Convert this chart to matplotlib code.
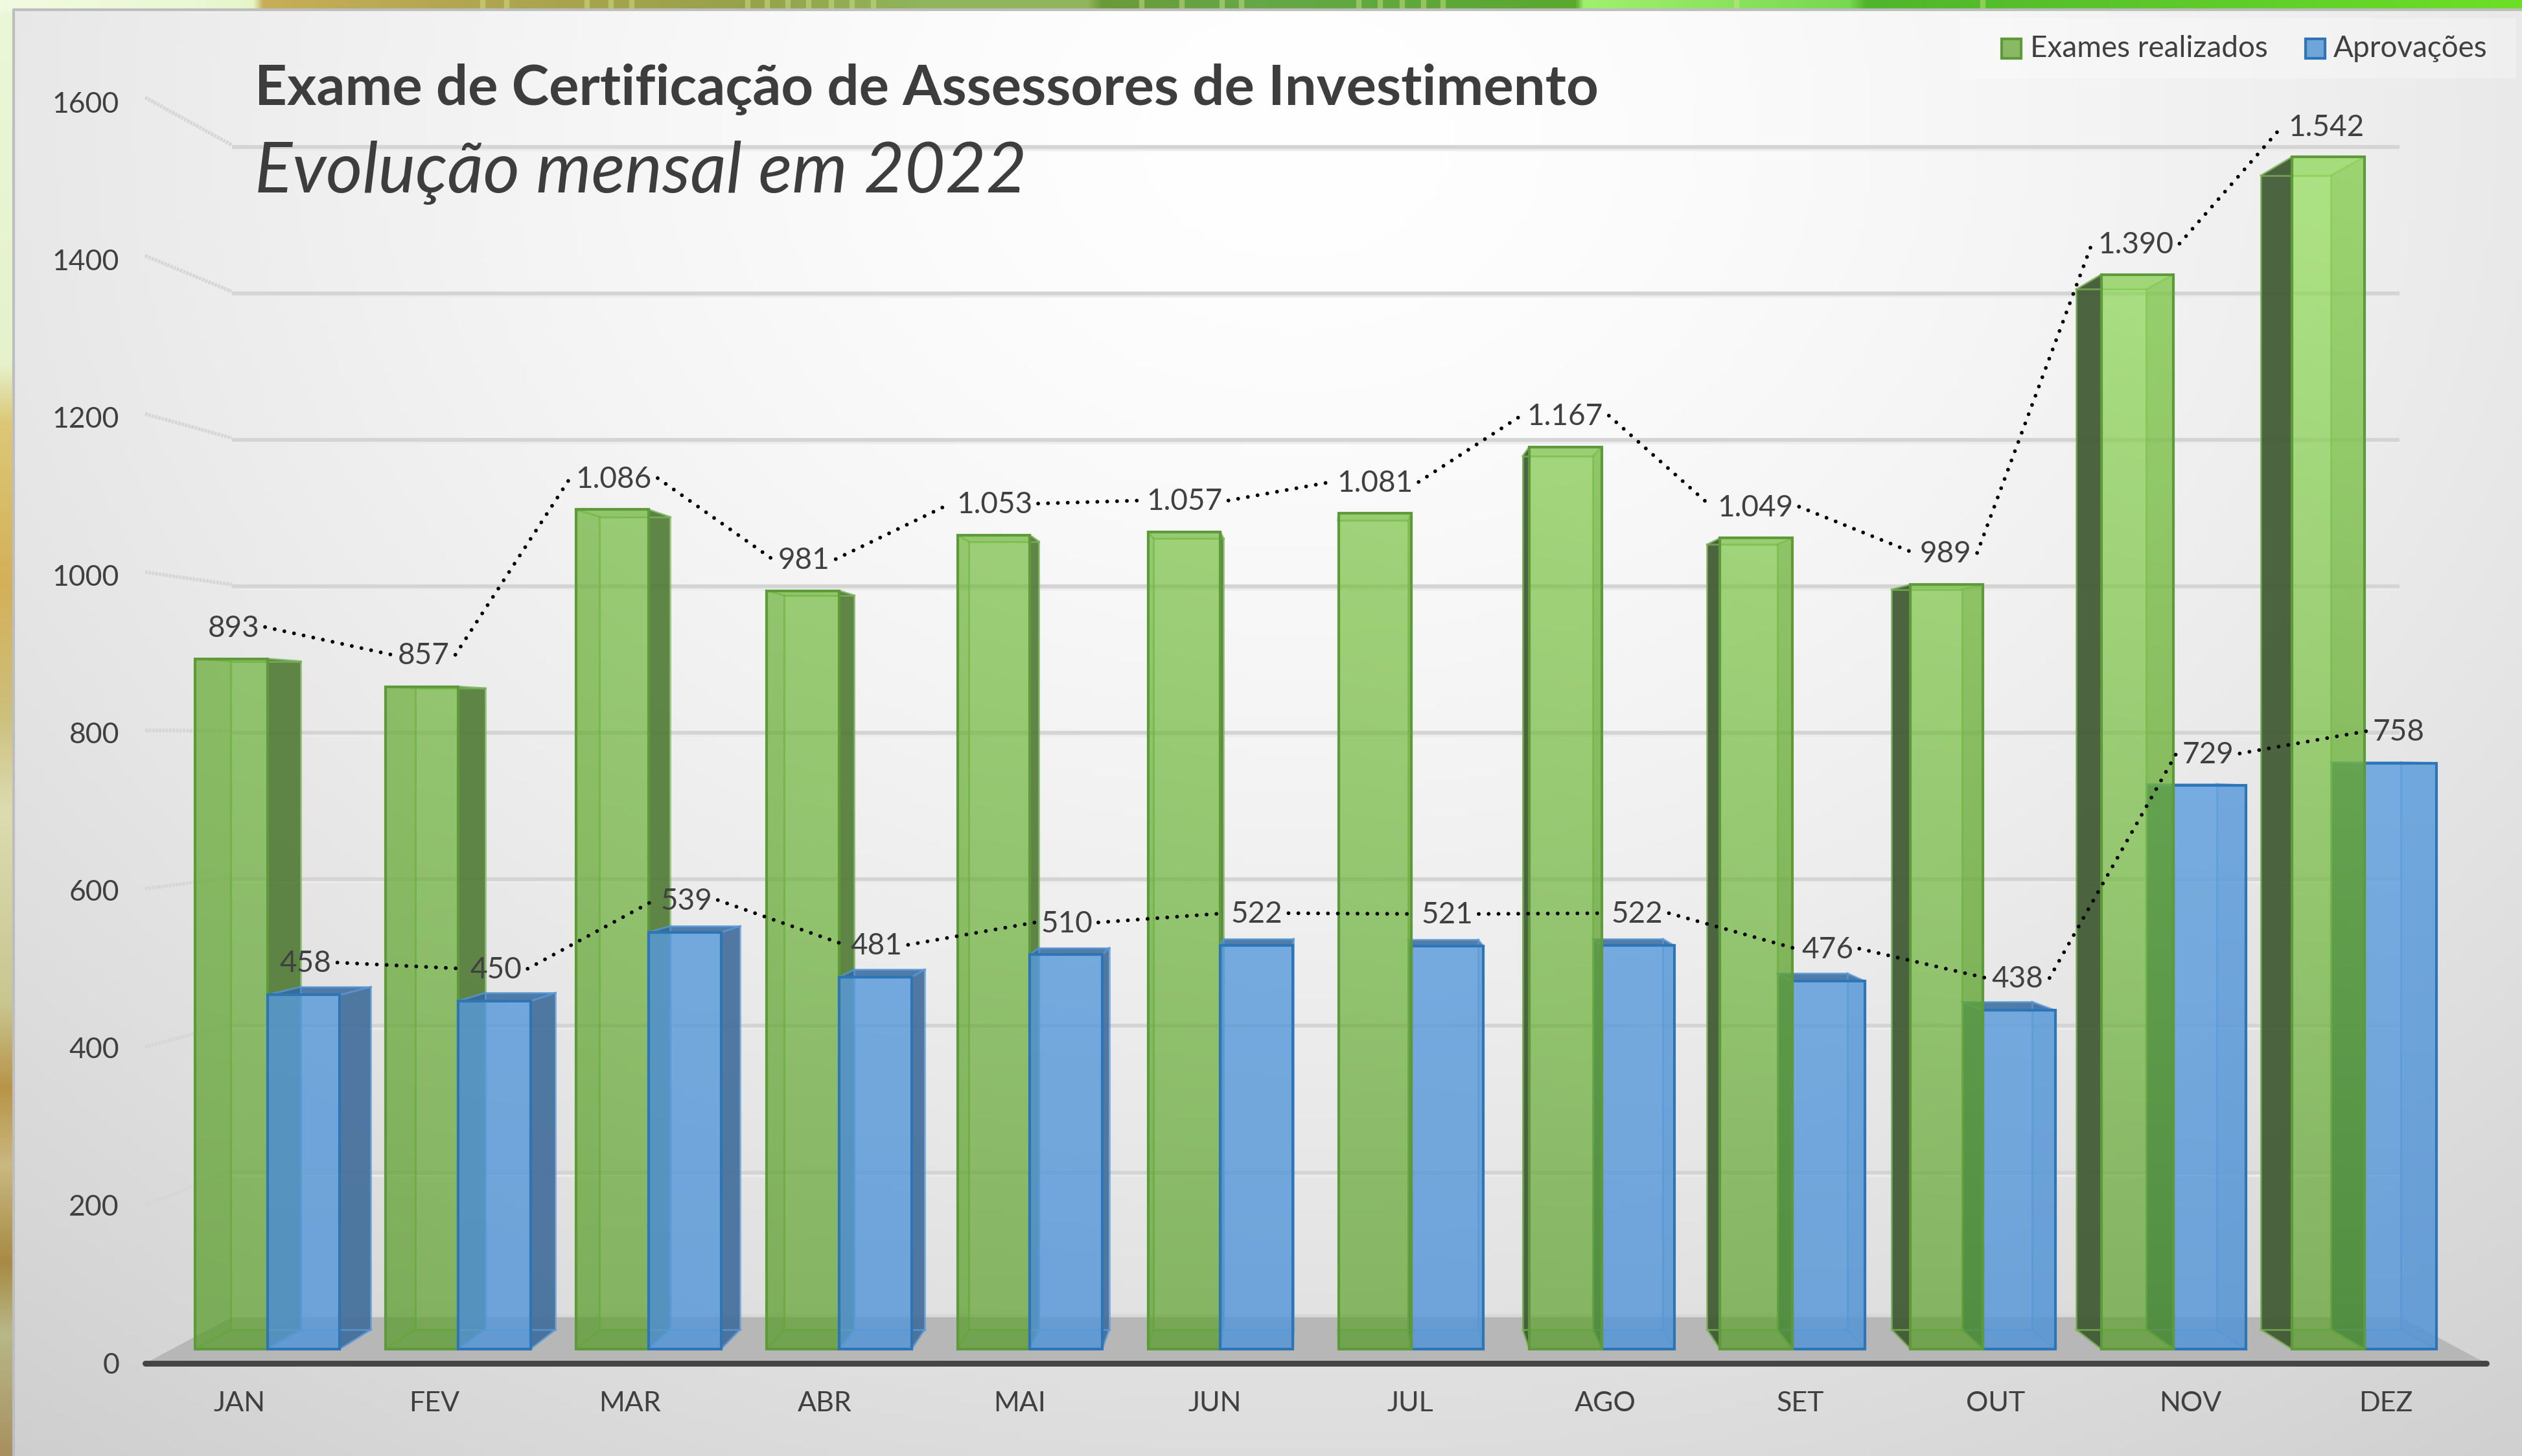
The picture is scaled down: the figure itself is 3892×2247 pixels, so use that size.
import numpy as np
import matplotlib
matplotlib.use('Agg')
import matplotlib.pyplot as plt
from matplotlib.patches import Polygon, Rectangle
from matplotlib.colors import to_rgb

# dados
meses = ['JAN', 'FEV', 'MAR', 'ABR', 'MAI', 'JUN', 'JUL', 'AGO', 'SET', 'OUT', 'NOV', 'DEZ']
exames = [893, 857, 1086, 981, 1053, 1057, 1081, 1167, 1049, 989, 1390, 1542]
aprovacoes = [458, 450, 539, 481, 510, 522, 521, 522, 476, 438, 729, 758]
ticks_y = [0, 200, 400, 600, 800, 1000, 1200, 1400, 1600]

titulo = 'Exame de Certificação de Assessores de Investimento'
subtitulo = 'Evolução mensal em 2022'
legenda = ['Exames realizados', 'Aprovações']

plt.rcParams['font.family'] = ['Lato', 'DejaVu Sans']
COR_TEXTO = '#404040'

W, H = 3892, 2247
fig = plt.figure(figsize=(W / 100, H / 100), dpi=100)
ax = fig.add_axes([0, 0, 1, 1])
ax.axis('off')

# perspectiva do grafico 3D do Excel: tudo converge para um ponto de fuga
VX, VY = 2030, 1141
X0, PASSO = 224, 301.1      # plano frontal, largura de cada mes
Y0, ESCALA = 2104, 1.221    # plano frontal, pixels por unidade
S_FRENTE, S_TRAS = 0.977, 0.946   # profundidade das barras
S_PAREDE = 0.926
V_FUGA = (Y0 - VY) / ESCALA
LARG = 0.38 * PASSO


def proj(x, v, s):
    return VX + s * (x - VX), VY + s * (Y0 - ESCALA * v - VY)


def cores(lista):
    return np.array([to_rgb(c) for c in lista])


# fundo de fora (faixas em cima e na esquerda)
xs = np.linspace(0, W, 1200)
ys = np.linspace(0, H, 500)
stops_x = [0, 300, 390, 405, 745, 1142, 1415, 1680, 1700, 1936, 2432, 2445, 2855, 2880, 3892]
cores_x = cores(['#f0fae0', '#eaf8d4', '#e6f5c8', '#c8ae58', '#b0a650', '#97a24a', '#8fb45a', '#8fb45a',
                 '#6b9a38', '#65a848', '#5aa82e', '#a0f070', '#78d84f', '#4fb52c', '#6ce028'])
stops_y = [0, 560, 650, 900, 1100, 1250, 1550, 1680, 1800, 1950, 2060, 2247]
cores_y = cores(['#eaf8d8', '#e6f2cc', '#dcc878', '#d4b058', '#cdbf7c', '#dcdcb0', '#c8c690', '#b89448',
                 '#c9b880', '#a88a44', '#b8b888', '#a89060'])
fora = np.zeros((len(ys), len(xs), 3))
for c in range(3):
    fora[:, :, c] = np.interp(ys, stops_y, cores_y[:, c])[:, None]
    fora[:4, :, c] = np.interp(xs, stops_x, cores_x[:, c])
ax.imshow(fora, extent=(0, W, H, 0), aspect='auto', zorder=0)
# folhinhas claras da faixa de cima
for xf in [745, 782, 906, 943, 975, 1154, 1184, 1216, 1248, 1283, 1315, 1348, 1762, 1824, 1886, 1916,
           2097, 2130, 2164, 2197, 2227, 2680, 3060]:
    ax.plot([xf, xf], [0, 13], color='#d8e890', lw=6, alpha=0.45, zorder=0.05, solid_capstyle='butt')

# painel cinza com gradiente radial
gx, gy = np.meshgrid(np.linspace(20, W, 400), np.linspace(14, H, 240))
d = np.sqrt(((gx - 2000) / 2500) ** 2 + ((gy - 200) / 2000) ** 2)
cinza = (255 - 47 * (d / 1.27) ** 1.5) / 255
ax.imshow(np.dstack([cinza] * 3), extent=(20, W, H, 14), aspect='auto', zorder=0.1, vmin=0, vmax=1)
ax.plot([21, 21, W], [H, 14.5, 14.5], color='#bdbdbd', lw=3, zorder=0.2)

# piso
xp0, yp0 = proj(X0, 0, S_PAREDE)
xp1, _ = proj(X0 + 12 * PASSO, 0, S_PAREDE)
ax.add_patch(Polygon([(X0, Y0), (xp0, yp0), (xp1, yp0), (X0 + 12 * PASSO, Y0)],
                     fc='#b7b7b7', ec='none', zorder=0.5))

# grades: parede do fundo e parede da esquerda
for v in ticks_y:
    xa, ya = proj(X0, v, S_PAREDE)
    xb, _ = proj(X0 + 12 * PASSO, v, S_PAREDE)
    if v > 0:
        ax.plot([xa, xb], [ya + 3, ya + 3], color='#d4d4d4', lw=4.5, zorder=0.4, solid_capstyle='butt')
        ax.plot([xa, xb], [ya + 7, ya + 7], color='#ececec', lw=2.5, zorder=0.4, solid_capstyle='butt')
    else:
        ax.plot([xa, xb], [ya - 3, ya - 3], color='#d8d8d8', lw=3, zorder=0.4)
    ax.plot([X0, xa], [Y0 - ESCALA * v, ya], color='#d6d6d6', lw=4, zorder=0.4,
            ls=(0, (0.7, 0.25)), solid_capstyle='butt')

ax.plot([X0, X0 + 12 * PASSO], [Y0, Y0], color='#454545', lw=6.5, zorder=0.6, solid_capstyle='round')

# gradiente das frentes das barras
gx, gy = np.meshgrid(np.linspace(0, W, 200), np.linspace(0, H, 120))
t = np.clip((2080 - gy) / 1850, 0, 1) * (0.4 + 0.6 * gx / W)
t = t[:, :, None]
verde_a = np.array(to_rgb('#5aa028'))
verde_b = np.array(to_rgb('#92e155'))
img_verde = verde_a + (verde_b - verde_a) * t
azul_a = np.array(to_rgb('#5597d8'))
azul_b = np.array(to_rgb('#6aaae6'))
img_azul = azul_a + (azul_b - azul_a) * t

ESTILOS = {
    'verde': dict(img=img_verde, alpha=0.68, borda='#5e9a3a', borda_int='#7ab35a',
                  lado_dir='#4f7a34', lado_esq='#3e5830', escondido='#3a5a25', topo='#3a5a25',
                  a_esc=0.3, a_piso=0.12),
    'azul': dict(img=img_azul, alpha=0.82, borda='#2e75b6', borda_int='#5a9ad8',
                 lado_dir='#3f6c9a', lado_esq='#3f6c9a', escondido='#2e5f90', topo='#34699f',
                 a_esc=0.18, a_piso=0.12),
}
z = [1.0]


def prox_z():
    z[0] += 0.01
    return z[0]


def barra(x0, x1, v, st):
    fa = [proj(x0, 0, S_FRENTE), proj(x1, 0, S_FRENTE), proj(x1, v, S_FRENTE), proj(x0, v, S_FRENTE)]
    tr = [proj(x0, 0, S_TRAS), proj(x1, 0, S_TRAS), proj(x1, v, S_TRAS), proj(x0, v, S_TRAS)]
    # faces que ficam expostas dependem da posicao em relacao ao ponto de fuga
    esq_exposta = x0 > VX
    dir_exposta = x1 < VX
    topo_exposto = v < V_FUGA

    def face(pts, cor, a):
        ax.add_patch(Polygon(pts, fc=cor, ec='none', alpha=a, zorder=prox_z()))

    face([fa[0], fa[1], tr[1], tr[0]], st['escondido'], st['a_piso'])
    face([fa[0], fa[3], tr[3], tr[0]], st['lado_esq'] if esq_exposta else st['escondido'],
         0.92 if esq_exposta else st['a_piso'])
    face([fa[1], fa[2], tr[2], tr[1]], st['lado_dir'] if dir_exposta else st['escondido'],
         0.9 if dir_exposta else st['a_esc'])
    face([fa[3], fa[2], tr[2], tr[3]], st['topo'] if topo_exposto else st['escondido'],
         0.85 if topo_exposto else st['a_piso'])

    # arestas de tras
    for a, b in [(tr[0], tr[1]), (tr[1], tr[2]), (tr[2], tr[3]), (tr[3], tr[0]),
                 (fa[0], tr[0]), (fa[1], tr[1]), (fa[2], tr[2]), (fa[3], tr[3])]:
        ax.plot([a[0], b[0]], [a[1], b[1]], color=st['borda_int'], lw=2.2, alpha=0.7, zorder=prox_z())

    # frente com gradiente
    pol = Polygon(fa, fc='none', ec='none', zorder=prox_z())
    ax.add_patch(pol)
    im = ax.imshow(st['img'], extent=(0, W, H, 0), aspect='auto', alpha=st['alpha'],
                   zorder=prox_z(), interpolation='bilinear')
    im.set_clip_path(pol)
    ax.add_patch(Polygon(fa, fc='none', ec=st['borda'], lw=3, joinstyle='miter', zorder=prox_z()))


for i in range(len(meses)):
    centro = X0 + PASSO * (i + 0.5)
    verde = (centro - LARG, centro, exames[i], ESTILOS['verde'])
    azul = (centro, centro + LARG, aprovacoes[i], ESTILOS['azul'])
    ordem = [verde, azul] if centro < VX else [azul, verde]
    for b in ordem:
        barra(*b)

# eixos
for v in ticks_y:
    ax.text(184, 2107 - 1.216 * v, str(v), ha='right', va='center', fontsize=32, color=COR_TEXTO, zorder=5)
for i, m in enumerate(meses):
    ax.text(X0 + PASSO * (i + 0.5) - 5, 2166, m, ha='center', va='center', fontsize=31, color=COR_TEXTO, zorder=5)


def milhar(v):
    return f'{v:,}'.replace(',', '.')


# rotulos ligados por linha pontilhada: da borda direita de um a borda esquerda do proximo
S_LINHA, FOLGA_V = 0.975, 43
renderer = fig.canvas.get_renderer()
for serie, desloc in [(exames, -LARG / 2), (aprovacoes, LARG / 2)]:
    pts = []
    meias = []
    for i, v in enumerate(serie):
        x, y = proj(X0 + PASSO * (i + 0.5) + desloc, v + FOLGA_V, S_LINHA)
        tx = ax.text(x, y + 4, milhar(v), ha='center', va='center', fontsize=33, color=COR_TEXTO, zorder=6)
        pts.append((x, y + 2))
        meias.append(tx.get_window_extent(renderer).width / 2 + 9)
    for i in range(len(pts) - 1):
        (xa, ya), (xb, yb) = pts[i], pts[i + 1]
        ax.plot([xa + meias[i], xb - meias[i + 1]], [ya, yb], color='black', lw=4.2,
                ls=(0, (0.01, 2.6)), dash_capstyle='round', zorder=5.5)

# titulo
ax.text(393, 162, titulo, fontsize=62.6, fontweight='bold', color='#3d3d3d', ha='left', va='baseline', zorder=7)
ax.text(393, 297, subtitulo, fontsize=78, fontstyle='italic', color='#3d3d3d', ha='left', va='baseline', zorder=7)

# legenda
ax.add_patch(Rectangle((3024, 28), 859, 93, fc='white', ec='none', alpha=0.3, zorder=7))
for x_q, x_t, st, txt in [(3089, 3133, ESTILOS['verde'], legenda[0]), (3558, 3601, ESTILOS['azul'], legenda[1])]:
    cor = '#8ab964' if st is ESTILOS['verde'] else '#6fa5d9'
    ax.add_patch(Rectangle((x_q, 60), 30, 30, fc=cor, ec=st['borda'], lw=3, zorder=8))
    ax.text(x_t, 75, txt, fontsize=33, color=COR_TEXTO, ha='left', va='center', zorder=8)

ax.set_xlim(0, W)
ax.set_ylim(H, 0)
fig.savefig('out.png', dpi=100)
